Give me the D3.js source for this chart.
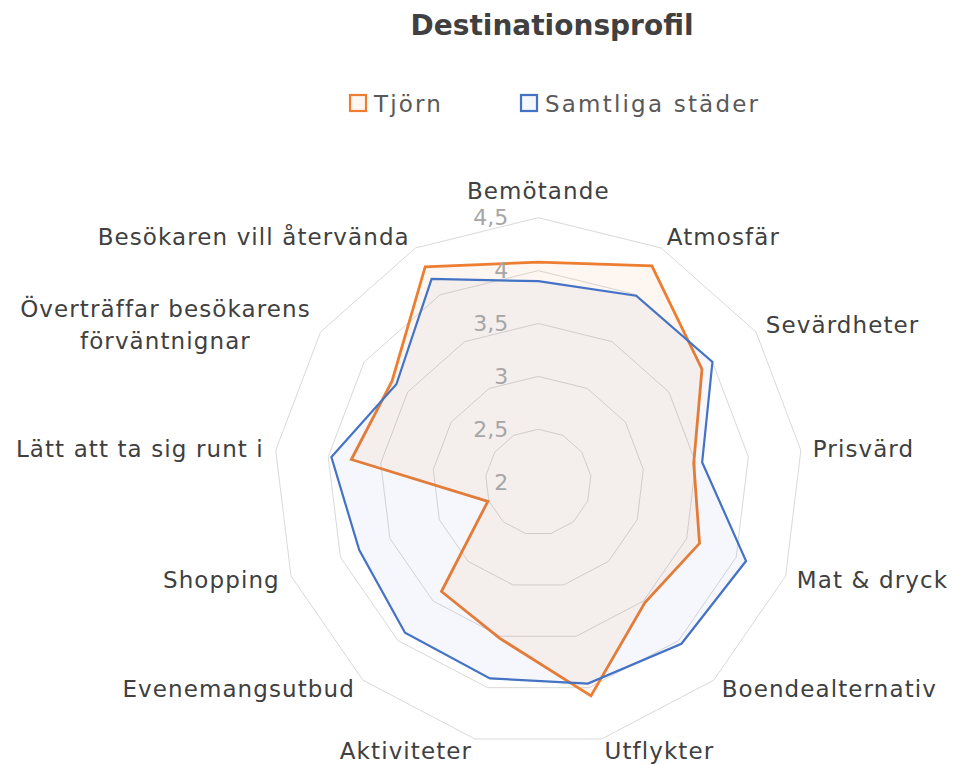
<!DOCTYPE html>
<html>
<head>
<meta charset="utf-8">
<script src="https://cdn.jsdelivr.net/npm/d3@7"></script>
<style>
  html, body { margin: 0; padding: 0; background: #ffffff; }
  svg { display: block; }
</style>
</head>
<body>
<svg id="chart" width="959" height="764"></svg>
<script>
// Destination profile: visitor ratings per dimension
const categories = [
  "Bemötande", "Atmosfär", "Sevärdheter", "Prisvärd", "Mat & dryck",
  "Boendealternativ", "Utflykter", "Aktiviteter", "Evenemangsutbud",
  "Shopping", "Lätt att ta sig runt i",
  "Överträffar besökarens förväntnignar", "Besökaren vill återvända"
];
const seriesNames = ["Tjörn", "Samtliga städer"];
const tjorn = [4.08, 4.31, 3.88, 3.48, 3.63, 3.52, 4.08, 3.52, 3.38, 2.51, 3.78, 3.68, 4.30];
const samtliga = [3.90, 3.99, 4.00, 3.56, 4.10, 4.04, 3.96, 3.91, 3.90, 3.81, 3.97, 3.63, 4.17];
const tickValues = [2, 2.5, 3, 3.5, 4, 4.5];
const title = "Destinationsprofil";

// Line breaks used for long axis labels
const labelLines = {
  "Överträffar besökarens förväntnignar": ["Överträffar besökarens", "förväntnignar"]
};

const svg = d3.select("#chart");
const cx = 538.3, cy = 482.2, R = 264.5;
const font = "'DejaVu Sans', sans-serif";
const colors = { "Tjörn": "#ED7D31", "Samtliga städer": "#4472C4" };

const r = d3.scaleLinear().domain([2, 4.5]).range([0, R]);
const angle = d3.scaleLinear().domain([0, categories.length]).range([0, 2 * Math.PI]);
const locale = d3.formatLocale({ decimal: ",", thousands: " ", grouping: [3], currency: ["", " kr"] });
const fmt = locale.format("~g");

const g = svg.append("g").attr("transform", `translate(${cx},${cy})`);

// Title
svg.append("text")
  .attr("x", 552).attr("y", 25)
  .attr("text-anchor", "middle").attr("dominant-baseline", "central")
  .attr("font-family", font).attr("font-weight", "bold").attr("font-size", 28)
  .attr("fill", "#404040")
  .text(title);

// Legend
const legendItems = [
  { name: seriesNames[0], x: 350, fill: "rgba(237,125,49,0.07)" },
  { name: seriesNames[1], x: 521, fill: "rgba(68,114,196,0.06)" }
];
const lg = svg.append("g");
legendItems.forEach(d => {
  lg.append("rect")
    .attr("x", d.x).attr("y", 95).attr("width", 16).attr("height", 16)
    .attr("fill", d.fill).attr("stroke", colors[d.name]).attr("stroke-width", 2.2);
  lg.append("text")
    .attr("x", d.x + 24).attr("y", 104)
    .attr("dominant-baseline", "central")
    .attr("font-family", font).attr("font-size", 23).attr("letter-spacing", 2.2)
    .attr("fill", "#595959")
    .text(d.name);
});

// Grid rings (13-sided polygons)
const ringLine = d3.lineRadial().angle((d, i) => angle(i)).radius(d => r(d)).curve(d3.curveLinearClosed);
g.append("g").selectAll("path")
  .data(tickValues.filter(v => v > 2))
  .join("path")
  .attr("d", v => ringLine(categories.map(() => v)))
  .attr("fill", "none")
  .attr("stroke", "#d9d9d9")
  .attr("stroke-width", 1);

// Series polygons
const dataLine = d3.lineRadial().angle((d, i) => angle(i)).radius(d => r(d)).curve(d3.curveLinearClosed);
const series = [
  { name: seriesNames[0], values: tjorn, fill: "rgba(237,125,49,0.07)", width: 2.8 },
  { name: seriesNames[1], values: samtliga, fill: "rgba(68,114,196,0.053)", width: 2.2 }
];
g.append("g").selectAll("path")
  .data(series)
  .join("path")
  .attr("d", d => dataLine(d.values))
  .attr("fill", d => d.fill)
  .attr("stroke", d => colors[d.name])
  .attr("stroke-width", d => d.width)
  .attr("stroke-linejoin", "miter");

// Radial tick labels
g.append("g").selectAll("text")
  .data(tickValues)
  .join("text")
  .attr("x", -30)
  .attr("y", v => -r(v))
  .attr("text-anchor", "end")
  .attr("dominant-baseline", "central")
  .attr("font-family", font).attr("font-size", 22)
  .attr("fill", "#a6a6a6")
  .text(v => fmt(v));

// Category labels around the outer ring
const labelG = g.append("g");
categories.forEach((c, i) => {
  const a = angle(i);
  const s = Math.sin(a), co = Math.cos(a);
  const d = R + 12;
  let px = d * s, py = -d * co;
  const lines = labelLines[c] || [c];
  const anchor = Math.abs(s) < 0.05 ? "middle" : (s > 0 ? "start" : "end");
  if (anchor === "middle") py -= co * 15;
  const t = labelG.append("text")
    .attr("font-family", font).attr("font-size", 23).attr("letter-spacing", 1.1)
    .attr("fill", "#404040")
    .attr("dominant-baseline", "central");
  if (lines.length === 1) {
    t.attr("x", px).attr("y", py).attr("text-anchor", anchor).text(c);
  } else {
    // multi-line: lines centred inside a box hugging the anchor point
    const lh = 32;
    const spans = lines.map((ln, k) => t.append("tspan")
      .attr("y", py + (k - (lines.length - 1) / 2) * lh).text(ln));
    const w = d3.max(spans, sp => sp.node().getComputedTextLength());
    const centreX = anchor === "end" ? px - w / 2 : (anchor === "start" ? px + w / 2 : px);
    t.attr("text-anchor", "middle");
    spans.forEach(sp => sp.attr("x", centreX));
  }
});
</script>
</body>
</html>
